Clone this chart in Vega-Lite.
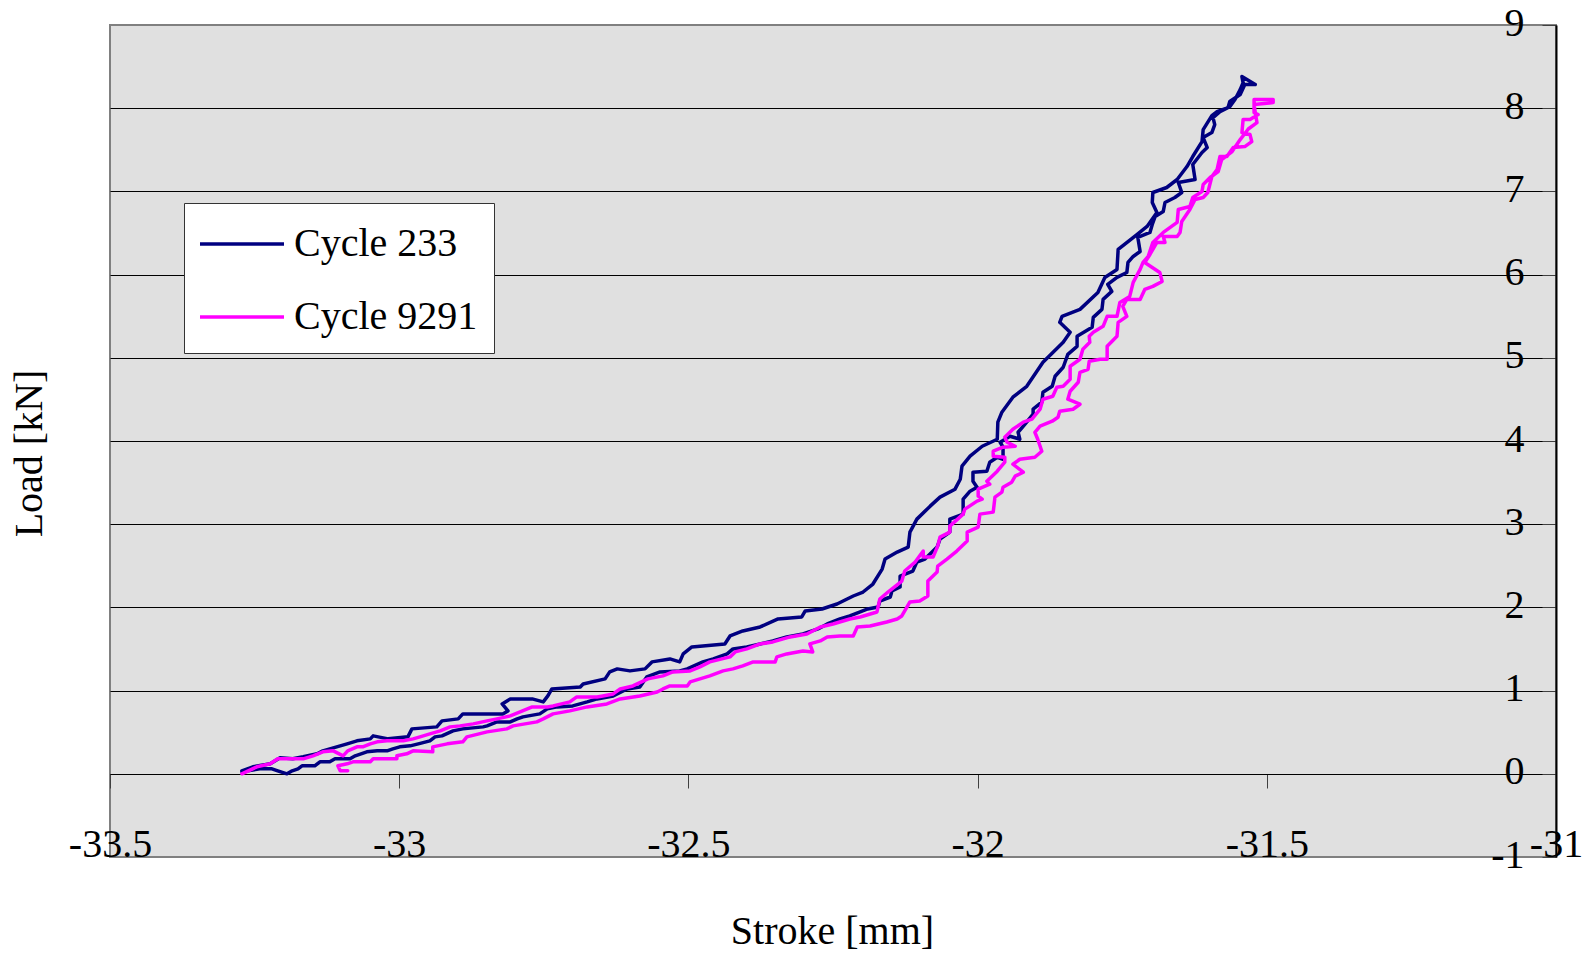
{
"$schema": "https://vega.github.io/schema/vega-lite/v6.json",
"width": 1446, "height": 832,
"autosize": {"type": "none"},
"padding": {"left": 110, "top": 25, "right": 40, "bottom": 96},
"background": "white",
"config": {
  "font": "Liberation Serif",
  "view": {"fill": "#E0E0E0", "stroke": "#808080", "strokeWidth": 2},
  "axis": {"labelFont": "Liberation Serif", "titleFont": "Liberation Serif", "labelColor": "black", "titleColor": "black"}
},
"datasets": {
"c233": [{"x":-33.272,"y":0.024},{"x":-33.241,"y":0.06},{"x":-33.22,"y":0.06},{"x":-33.21,"y":0.036},{"x":-33.194,"y":0},{"x":-33.185,"y":0.036},{"x":-33.175,"y":0.06},{"x":-33.168,"y":0.096},{"x":-33.146,"y":0.096},{"x":-33.137,"y":0.144},{"x":-33.12,"y":0.144},{"x":-33.111,"y":0.18},{"x":-33.085,"y":0.18},{"x":-33.076,"y":0.216},{"x":-33.056,"y":0.264},{"x":-33.038,"y":0.276},{"x":-33.021,"y":0.276},{"x":-33.011,"y":0.3},{"x":-32.999,"y":0.324},{"x":-32.981,"y":0.336},{"x":-32.967,"y":0.36},{"x":-32.947,"y":0.396},{"x":-32.938,"y":0.444},{"x":-32.926,"y":0.456},{"x":-32.907,"y":0.516},{"x":-32.89,"y":0.54},{"x":-32.855,"y":0.564},{"x":-32.848,"y":0.576},{"x":-32.831,"y":0.624},{"x":-32.808,"y":0.624},{"x":-32.796,"y":0.66},{"x":-32.786,"y":0.684},{"x":-32.757,"y":0.72},{"x":-32.744,"y":0.78},{"x":-32.727,"y":0.804},{"x":-32.7,"y":0.816},{"x":-32.675,"y":0.864},{"x":-32.658,"y":0.9},{"x":-32.63,"y":0.936},{"x":-32.606,"y":1.02},{"x":-32.584,"y":1.044},{"x":-32.572,"y":1.164},{"x":-32.549,"y":1.224},{"x":-32.515,"y":1.236},{"x":-32.502,"y":1.26},{"x":-32.475,"y":1.345},{"x":-32.457,"y":1.381},{"x":-32.433,"y":1.441},{"x":-32.423,"y":1.501},{"x":-32.399,"y":1.525},{"x":-32.376,"y":1.561},{"x":-32.354,"y":1.597},{"x":-32.33,"y":1.645},{"x":-32.302,"y":1.681},{"x":-32.276,"y":1.741},{"x":-32.26,"y":1.801},{"x":-32.238,"y":1.861},{"x":-32.221,"y":1.897},{"x":-32.203,"y":1.945},{"x":-32.19,"y":1.981},{"x":-32.172,"y":2.005},{"x":-32.169,"y":2.077},{"x":-32.151,"y":2.125},{"x":-32.148,"y":2.197},{"x":-32.134,"y":2.245},{"x":-32.134,"y":2.377},{"x":-32.112,"y":2.437},{"x":-32.105,"y":2.545},{"x":-32.091,"y":2.581},{"x":-32.07,"y":2.725},{"x":-32.065,"y":2.821},{"x":-32.048,"y":2.905},{"x":-32.048,"y":3.061},{"x":-32.025,"y":3.121},{"x":-32.025,"y":3.301},{"x":-32.013,"y":3.397},{"x":-32.001,"y":3.445},{"x":-32.008,"y":3.517},{"x":-32.008,"y":3.625},{"x":-31.984,"y":3.637},{"x":-31.979,"y":3.745},{"x":-31.966,"y":3.805},{"x":-31.956,"y":3.781},{"x":-31.956,"y":3.925},{"x":-31.961,"y":3.985},{"x":-31.944,"y":4.057},{"x":-31.927,"y":4.021},{"x":-31.93,"y":4.105},{"x":-31.918,"y":4.202},{"x":-31.904,"y":4.322},{"x":-31.904,"y":4.382},{"x":-31.889,"y":4.466},{"x":-31.887,"y":4.586},{"x":-31.871,"y":4.658},{"x":-31.866,"y":4.778},{"x":-31.852,"y":4.886},{"x":-31.844,"y":5.042},{"x":-31.828,"y":5.138},{"x":-31.828,"y":5.258},{"x":-31.802,"y":5.366},{"x":-31.8,"y":5.486},{"x":-31.785,"y":5.582},{"x":-31.783,"y":5.702},{"x":-31.768,"y":5.798},{"x":-31.775,"y":5.882},{"x":-31.759,"y":5.966},{"x":-31.742,"y":6.026},{"x":-31.74,"y":6.146},{"x":-31.731,"y":6.218},{"x":-31.719,"y":6.278},{"x":-31.723,"y":6.447},{"x":-31.702,"y":6.507},{"x":-31.698,"y":6.603},{"x":-31.693,"y":6.699},{"x":-31.679,"y":6.759},{"x":-31.676,"y":6.867},{"x":-31.659,"y":6.927},{"x":-31.647,"y":6.987},{"x":-31.653,"y":7.107},{"x":-31.624,"y":7.143},{"x":-31.628,"y":7.323},{"x":-31.612,"y":7.467},{"x":-31.603,"y":7.527},{"x":-31.61,"y":7.647},{"x":-31.595,"y":7.707},{"x":-31.59,"y":7.803},{"x":-31.593,"y":7.887},{"x":-31.581,"y":7.959},{"x":-31.564,"y":8.019},{"x":-31.555,"y":8.104},{"x":-31.546,"y":8.224},{"x":-31.541,"y":8.308},{"x":-31.543,"y":8.38},{"x":-31.52,"y":8.284},{"x":-31.538,"y":8.284},{"x":-31.546,"y":8.164},{"x":-31.564,"y":8.08},{"x":-31.567,"y":8.008},{"x":-31.586,"y":7.959},{"x":-31.595,"y":7.911},{"x":-31.61,"y":7.743},{"x":-31.612,"y":7.599},{"x":-31.628,"y":7.419},{"x":-31.638,"y":7.299},{"x":-31.655,"y":7.143},{"x":-31.673,"y":7.047},{"x":-31.697,"y":6.987},{"x":-31.698,"y":6.867},{"x":-31.69,"y":6.747},{"x":-31.707,"y":6.579},{"x":-31.724,"y":6.483},{"x":-31.757,"y":6.302},{"x":-31.759,"y":6.062},{"x":-31.78,"y":5.966},{"x":-31.792,"y":5.786},{"x":-31.823,"y":5.582},{"x":-31.854,"y":5.498},{"x":-31.858,"y":5.426},{"x":-31.84,"y":5.306},{"x":-31.852,"y":5.186},{"x":-31.887,"y":4.946},{"x":-31.915,"y":4.658},{"x":-31.939,"y":4.526},{"x":-31.958,"y":4.346},{"x":-31.965,"y":4.226},{"x":-31.966,"y":4.021},{"x":-31.992,"y":3.937},{"x":-32.013,"y":3.817},{"x":-32.027,"y":3.697},{"x":-32.03,"y":3.541},{"x":-32.039,"y":3.421},{"x":-32.065,"y":3.325},{"x":-32.082,"y":3.217},{"x":-32.105,"y":3.061},{"x":-32.117,"y":2.905},{"x":-32.12,"y":2.725},{"x":-32.139,"y":2.665},{"x":-32.16,"y":2.581},{"x":-32.165,"y":2.461},{"x":-32.181,"y":2.281},{"x":-32.198,"y":2.185},{"x":-32.215,"y":2.137},{"x":-32.243,"y":2.041},{"x":-32.269,"y":1.981},{"x":-32.298,"y":1.957},{"x":-32.304,"y":1.885},{"x":-32.345,"y":1.861},{"x":-32.376,"y":1.765},{"x":-32.406,"y":1.717},{"x":-32.428,"y":1.657},{"x":-32.437,"y":1.561},{"x":-32.494,"y":1.525},{"x":-32.509,"y":1.441},{"x":-32.515,"y":1.345},{"x":-32.532,"y":1.381},{"x":-32.563,"y":1.345},{"x":-32.575,"y":1.261},{"x":-32.601,"y":1.237},{"x":-32.623,"y":1.261},{"x":-32.636,"y":1.225},{"x":-32.644,"y":1.141},{"x":-32.682,"y":1.08},{"x":-32.687,"y":1.044},{"x":-32.736,"y":1.02},{"x":-32.743,"y":0.936},{"x":-32.751,"y":0.864},{"x":-32.77,"y":0.9},{"x":-32.808,"y":0.9},{"x":-32.822,"y":0.84},{"x":-32.812,"y":0.756},{"x":-32.821,"y":0.72},{"x":-32.89,"y":0.72},{"x":-32.898,"y":0.66},{"x":-32.926,"y":0.636},{"x":-32.935,"y":0.564},{"x":-32.978,"y":0.54},{"x":-32.985,"y":0.444},{"x":-33.019,"y":0.42},{"x":-33.045,"y":0.456},{"x":-33.05,"y":0.42},{"x":-33.073,"y":0.396},{"x":-33.09,"y":0.36},{"x":-33.108,"y":0.324},{"x":-33.132,"y":0.276},{"x":-33.142,"y":0.24},{"x":-33.166,"y":0.204},{"x":-33.184,"y":0.18},{"x":-33.206,"y":0.192},{"x":-33.223,"y":0.12},{"x":-33.253,"y":0.084},{"x":-33.272,"y":0.036}],
"c9291": [{"x":-33.089,"y":0.036},{"x":-33.102,"y":0.036},{"x":-33.106,"y":0.096},{"x":-33.09,"y":0.12},{"x":-33.08,"y":0.144},{"x":-33.05,"y":0.144},{"x":-33.045,"y":0.18},{"x":-33.004,"y":0.18},{"x":-33.004,"y":0.216},{"x":-32.987,"y":0.24},{"x":-32.976,"y":0.276},{"x":-32.942,"y":0.264},{"x":-32.942,"y":0.324},{"x":-32.917,"y":0.36},{"x":-32.89,"y":0.384},{"x":-32.883,"y":0.444},{"x":-32.848,"y":0.504},{"x":-32.814,"y":0.54},{"x":-32.803,"y":0.576},{"x":-32.762,"y":0.624},{"x":-32.751,"y":0.66},{"x":-32.734,"y":0.72},{"x":-32.705,"y":0.756},{"x":-32.675,"y":0.804},{"x":-32.641,"y":0.84},{"x":-32.618,"y":0.9},{"x":-32.584,"y":0.936},{"x":-32.554,"y":0.984},{"x":-32.544,"y":1.02},{"x":-32.532,"y":1.056},{"x":-32.502,"y":1.056},{"x":-32.497,"y":1.104},{"x":-32.48,"y":1.141},{"x":-32.463,"y":1.177},{"x":-32.44,"y":1.237},{"x":-32.423,"y":1.261},{"x":-32.406,"y":1.297},{"x":-32.388,"y":1.345},{"x":-32.35,"y":1.345},{"x":-32.347,"y":1.405},{"x":-32.33,"y":1.441},{"x":-32.302,"y":1.477},{"x":-32.285,"y":1.465},{"x":-32.29,"y":1.561},{"x":-32.272,"y":1.597},{"x":-32.26,"y":1.645},{"x":-32.238,"y":1.657},{"x":-32.215,"y":1.657},{"x":-32.208,"y":1.765},{"x":-32.186,"y":1.777},{"x":-32.157,"y":1.825},{"x":-32.139,"y":1.861},{"x":-32.131,"y":1.897},{"x":-32.122,"y":2.005},{"x":-32.117,"y":2.065},{"x":-32.1,"y":2.077},{"x":-32.086,"y":2.137},{"x":-32.086,"y":2.317},{"x":-32.07,"y":2.425},{"x":-32.069,"y":2.497},{"x":-32.053,"y":2.581},{"x":-32.036,"y":2.677},{"x":-32.018,"y":2.797},{"x":-32.018,"y":2.905},{"x":-31.999,"y":2.965},{"x":-31.996,"y":3.121},{"x":-31.973,"y":3.145},{"x":-31.97,"y":3.325},{"x":-31.958,"y":3.385},{"x":-31.956,"y":3.445},{"x":-31.941,"y":3.505},{"x":-31.935,"y":3.577},{"x":-31.921,"y":3.625},{"x":-31.939,"y":3.721},{"x":-31.927,"y":3.781},{"x":-31.901,"y":3.805},{"x":-31.889,"y":3.877},{"x":-31.896,"y":4.021},{"x":-31.901,"y":4.105},{"x":-31.892,"y":4.178},{"x":-31.871,"y":4.238},{"x":-31.861,"y":4.286},{"x":-31.858,"y":4.358},{"x":-31.835,"y":4.382},{"x":-31.823,"y":4.442},{"x":-31.844,"y":4.502},{"x":-31.84,"y":4.598},{"x":-31.826,"y":4.706},{"x":-31.823,"y":4.826},{"x":-31.809,"y":4.862},{"x":-31.807,"y":4.958},{"x":-31.788,"y":4.982},{"x":-31.776,"y":4.982},{"x":-31.776,"y":5.138},{"x":-31.759,"y":5.258},{"x":-31.757,"y":5.426},{"x":-31.742,"y":5.498},{"x":-31.749,"y":5.618},{"x":-31.742,"y":5.702},{"x":-31.719,"y":5.702},{"x":-31.711,"y":5.822},{"x":-31.697,"y":5.858},{"x":-31.681,"y":5.918},{"x":-31.685,"y":6.026},{"x":-31.711,"y":6.146},{"x":-31.702,"y":6.242},{"x":-31.69,"y":6.387},{"x":-31.676,"y":6.387},{"x":-31.679,"y":6.459},{"x":-31.655,"y":6.459},{"x":-31.65,"y":6.507},{"x":-31.647,"y":6.639},{"x":-31.633,"y":6.783},{"x":-31.624,"y":6.903},{"x":-31.61,"y":6.927},{"x":-31.602,"y":6.987},{"x":-31.595,"y":7.179},{"x":-31.586,"y":7.263},{"x":-31.581,"y":7.419},{"x":-31.569,"y":7.419},{"x":-31.558,"y":7.527},{"x":-31.538,"y":7.539},{"x":-31.526,"y":7.599},{"x":-31.529,"y":7.683},{"x":-31.543,"y":7.707},{"x":-31.541,"y":7.863},{"x":-31.529,"y":7.863},{"x":-31.515,"y":7.923},{"x":-31.522,"y":7.947},{"x":-31.522,"y":8.104},{"x":-31.489,"y":8.104},{"x":-31.489,"y":8.068},{"x":-31.522,"y":8.044},{"x":-31.52,"y":7.95},{"x":-31.517,"y":7.827},{"x":-31.532,"y":7.75},{"x":-31.546,"y":7.623},{"x":-31.56,"y":7.479},{"x":-31.578,"y":7.383},{"x":-31.584,"y":7.239},{"x":-31.598,"y":7.167},{"x":-31.61,"y":7.083},{"x":-31.612,"y":6.999},{"x":-31.628,"y":6.927},{"x":-31.633,"y":6.819},{"x":-31.653,"y":6.783},{"x":-31.655,"y":6.627},{"x":-31.679,"y":6.507},{"x":-31.697,"y":6.387},{"x":-31.705,"y":6.219},{"x":-31.714,"y":6.146},{"x":-31.719,"y":6.062},{"x":-31.731,"y":5.906},{"x":-31.737,"y":5.738},{"x":-31.754,"y":5.666},{"x":-31.759,"y":5.498},{"x":-31.776,"y":5.498},{"x":-31.783,"y":5.378},{"x":-31.8,"y":5.306},{"x":-31.807,"y":5.258},{"x":-31.806,"y":5.186},{"x":-31.818,"y":5.102},{"x":-31.823,"y":4.982},{"x":-31.84,"y":4.898},{"x":-31.84,"y":4.742},{"x":-31.852,"y":4.658},{"x":-31.863,"y":4.646},{"x":-31.87,"y":4.538},{"x":-31.887,"y":4.502},{"x":-31.892,"y":4.382},{"x":-31.906,"y":4.262},{"x":-31.921,"y":4.226},{"x":-31.939,"y":4.142},{"x":-31.953,"y":4.046},{"x":-31.949,"y":3.985},{"x":-31.935,"y":3.937},{"x":-31.956,"y":3.925},{"x":-31.973,"y":3.877},{"x":-31.973,"y":3.817},{"x":-31.953,"y":3.805},{"x":-31.953,"y":3.745},{"x":-31.966,"y":3.637},{"x":-31.984,"y":3.517},{"x":-31.979,"y":3.481},{"x":-31.999,"y":3.421},{"x":-31.999,"y":3.337},{"x":-31.992,"y":3.301},{"x":-32.001,"y":3.277},{"x":-32.022,"y":3.181},{"x":-32.025,"y":3.121},{"x":-32.048,"y":2.977},{"x":-32.048,"y":2.905},{"x":-32.065,"y":2.845},{"x":-32.069,"y":2.737},{"x":-32.077,"y":2.605},{"x":-32.094,"y":2.605},{"x":-32.094,"y":2.677},{"x":-32.108,"y":2.545},{"x":-32.126,"y":2.437},{"x":-32.131,"y":2.317},{"x":-32.155,"y":2.185},{"x":-32.169,"y":2.101},{"x":-32.174,"y":1.945},{"x":-32.203,"y":1.885},{"x":-32.221,"y":1.861},{"x":-32.25,"y":1.801},{"x":-32.272,"y":1.765},{"x":-32.295,"y":1.681},{"x":-32.324,"y":1.645},{"x":-32.354,"y":1.585},{"x":-32.376,"y":1.561},{"x":-32.399,"y":1.501},{"x":-32.419,"y":1.465},{"x":-32.428,"y":1.405},{"x":-32.463,"y":1.345},{"x":-32.48,"y":1.285},{"x":-32.497,"y":1.237},{"x":-32.527,"y":1.225},{"x":-32.544,"y":1.177},{"x":-32.57,"y":1.141},{"x":-32.596,"y":1.056},{"x":-32.618,"y":1.02},{"x":-32.63,"y":0.96},{"x":-32.648,"y":0.936},{"x":-32.658,"y":0.924},{"x":-32.693,"y":0.924},{"x":-32.705,"y":0.864},{"x":-32.734,"y":0.816},{"x":-32.744,"y":0.804},{"x":-32.77,"y":0.804},{"x":-32.791,"y":0.744},{"x":-32.808,"y":0.696},{"x":-32.831,"y":0.66},{"x":-32.848,"y":0.636},{"x":-32.872,"y":0.6},{"x":-32.895,"y":0.576},{"x":-32.912,"y":0.564},{"x":-32.929,"y":0.516},{"x":-32.947,"y":0.48},{"x":-32.964,"y":0.444},{"x":-32.976,"y":0.42},{"x":-32.993,"y":0.396},{"x":-33.021,"y":0.396},{"x":-33.038,"y":0.384},{"x":-33.05,"y":0.36},{"x":-33.063,"y":0.324},{"x":-33.073,"y":0.324},{"x":-33.089,"y":0.276},{"x":-33.097,"y":0.216},{"x":-33.114,"y":0.276},{"x":-33.132,"y":0.264},{"x":-33.149,"y":0.216},{"x":-33.166,"y":0.18},{"x":-33.197,"y":0.18},{"x":-33.21,"y":0.18},{"x":-33.223,"y":0.12},{"x":-33.246,"y":0.084},{"x":-33.272,"y":0}]
},
"encoding": {
  "x": {"field": "x", "type": "quantitative",
    "scale": {"domain": [-33.5, -31], "nice": false, "zero": false},
    "axis": {"orient": "bottom", "offset": -83, "values": [-33.5, -33, -32.5, -32, -31.5, -31],
      "labelExpr": "'' + datum.value", "labelFontSize": 40, "labelBaseline": "alphabetic", "labelPadding": 68,
      "labelFlush": false, "labelOverlap": false, "tickSize": 14, "tickColor": "#404040", "tickWidth": 1,
      "domainColor": "black", "domainWidth": 1, "grid": false,
      "title": "Stroke [mm]", "titleFontSize": 40, "titleFontWeight": "normal", "titleX": 722, "titleY": 169,
      "titleAlign": "center", "titleBaseline": "alphabetic", "titleAngle": 0}},
  "y": {"field": "y", "type": "quantitative",
    "scale": {"domain": [-1, 9], "nice": false, "zero": false},
    "axis": {"orient": "left", "offset": -1446, "values": [-1, 0, 1, 2, 3, 4, 5, 6, 7, 8, 9],
      "labelExpr": "'' + datum.value", "labelFontSize": 40, "labelPadding": 18, "labelOffset": -2,
      "labelOverlap": false, "labelFlush": false, "tickSize": 14, "tickColor": "#404040", "tickWidth": 1,
      "domainColor": "black", "domainWidth": 2, "grid": true,
      "gridColor": {"condition": {"test": "datum.value == 9 || datum.value == -1", "value": "#808080"}, "value": "#000000"},
      "gridWidth": 1,
      "title": "Load [kN]", "titleFontSize": 40, "titleFontWeight": "normal", "titleAngle": 270,
      "titleX": -1515, "titleY": 428, "titleAlign": "center", "titleBaseline": "alphabetic"}},
  "order": {"value": null}
},
"layer": [
  {"data": {"name": "c233"},
   "mark": {"type": "line", "strokeWidth": 3.5, "strokeJoin": "round", "strokeCap": "round"},
   "encoding": {"color": {"datum": "Cycle 233", "type": "nominal",
     "scale": {"domain": ["Cycle 233", "Cycle 9291"], "range": ["#000080", "#FF00FF"]},
     "legend": {"orient": "none", "legendX": 74, "legendY": 178, "direction": "vertical", "title": null,
       "padding": 16, "fillColor": "white", "strokeColor": "#333333", "cornerRadius": 0,
       "labelFont": "Liberation Serif", "labelFontSize": 40, "labelColor": "black", "labelLimit": 400,
       "symbolType": "M-1.826,0H1.826", "symbolSize": 2116, "symbolStrokeWidth": 3.5,
       "symbolOffset": 17, "rowPadding": 28, "labelOffset": 27}}}},
  {"data": {"name": "c9291"},
   "mark": {"type": "line", "strokeWidth": 3.5, "strokeJoin": "round", "strokeCap": "round"},
   "encoding": {"color": {"datum": "Cycle 9291", "type": "nominal"}}}
]
}
